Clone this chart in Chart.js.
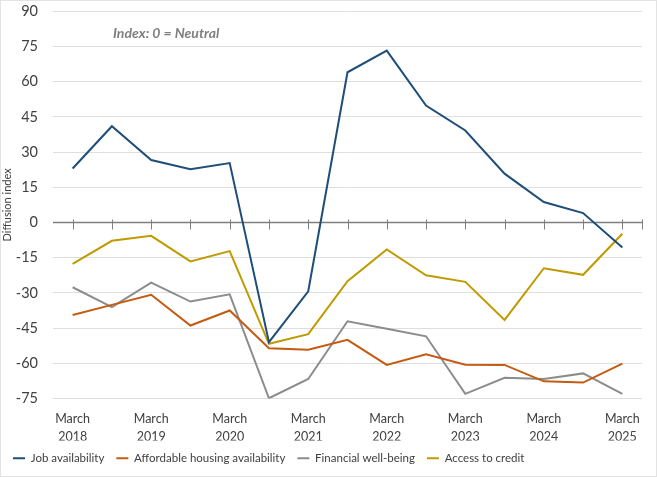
<!DOCTYPE html>
<html>
<head>
<meta charset="utf-8">
<script src="https://cdn.jsdelivr.net/npm/chart.js@4.4.1/dist/chart.umd.min.js"></script>
<style>
  html, body { margin: 0; padding: 0; background: #fff; }
  #wrap { position: relative; width: 655px; height: 475px; border: 1px solid #e3e3e3; }
</style>
</head>
<body>
<div id="wrap"><canvas id="chart"></canvas></div>
<script>
const categories = [
  "March 2018", "September 2018", "March 2019", "September 2019", "March 2020",
  "September 2020", "March 2021", "September 2021", "March 2022", "September 2022",
  "March 2023", "September 2023", "March 2024", "September 2024", "March 2025"
];
const tickLabels = [
  ["March", "2018"], "", ["March", "2019"], "", ["March", "2020"], "",
  ["March", "2021"], "", ["March", "2022"], "", ["March", "2023"], "",
  ["March", "2024"], "", ["March", "2025"]
];
const jobAvailability = [23, 41, 26.6, 22.7, 25.3, -51, -29.3, 64, 73.2, 49.8, 39.2, 20.8, 8.7, 4, -10.7];
const affordableHousing = [-39.4, -35.1, -30.8, -43.9, -37.5, -53.6, -54.2, -50, -60.7, -56.2, -60.6, -60.7, -67.7, -68.2, -60.1];
const financialWellBeing = [-27.6, -36.1, -25.6, -33.7, -30.6, -74.9, -66.7, -42.1, -45.3, -48.5, -73, -66.2, -66.7, -64.3, -73];
const accessToCredit = [-17.6, -7.8, -5.7, -16.6, -12.2, -51.7, -47.6, -25, -11.5, -22.5, -25.3, -41.5, -19.5, -22.3, -4.8];
const yTicks = [-75, -60, -45, -30, -15, 0, 15, 30, 45, 60, 75, 90];

const FONT = "Lato, 'Open Sans', sans-serif";

// note text in the upper left of the plot
const noteLabel = {
  id: "noteLabel",
  afterDraw(chart) {
    const { ctx, chartArea } = chart;
    ctx.save();
    ctx.font = "italic bold 14px " + FONT;
    ctx.fillStyle = "#7f7f7f";
    ctx.textBaseline = "middle";
    ctx.fillText("Index: 0 = Neutral", chartArea.left + 60, chartArea.top + 22);
    ctx.restore();
  },
};

// horizontal axis line at zero with tick marks at each category
const zeroAxis = {
  id: "zeroAxis",
  beforeDatasetsDraw(chart) {
    const { ctx, chartArea } = chart;
    const x = chart.scales.x;
    const y0 = chart.scales.y.getPixelForValue(0);
    ctx.save();
    ctx.strokeStyle = "#7f7f7f";
    ctx.lineWidth = 1.5;
    ctx.beginPath();
    ctx.moveTo(chartArea.left, y0);
    ctx.lineTo(chartArea.right, y0);
    ctx.stroke();
    ctx.lineWidth = 1;
    ctx.beginPath();
    const xs = categories.map((c, i) => x.getPixelForValue(i));
    xs.push(chartArea.right);
    xs.forEach((px) => {
      const p = Math.round(px) + 0.5;
      ctx.moveTo(p, y0 - 3);
      ctx.lineTo(p, y0 + 7);
    });
    ctx.stroke();
    ctx.restore();
  },
};

function line(label, data, color) {
  return {
    label: label,
    data: data,
    borderColor: color,
    backgroundColor: color,
    borderWidth: 2,
    pointRadius: 0,
    tension: 0,
    fill: false,
  };
}

new Chart(document.getElementById("chart"), {
  type: "line",
  data: {
    labels: categories,
    datasets: [
      line("Job availability", jobAvailability, "#1f4e79"),
      line("Affordable housing availability", affordableHousing, "#c55a11"),
      line("Financial well-being", financialWellBeing, "#8c8c8c"),
      line("Access to credit", accessToCredit, "#bf9b00"),
    ],
  },
  options: {
    responsive: true,
    maintainAspectRatio: false,
    animation: false,
    layout: { padding: { top: 1, right: 14, left: 0, bottom: 2 } },
    scales: {
      x: {
        offset: true,
        grid: { display: false, drawTicks: false },
        border: { display: false },
        afterFit: (axis) => {
          axis.height = 42;
        },
        ticks: {
          autoSkip: false,
          maxRotation: 0,
          color: "#404040",
          font: { family: FONT, size: 12.5, lineHeight: 1.45 },
          padding: 11,
          callback: (v, i) => tickLabels[i],
        },
      },
      y: {
        min: -75,
        max: 90,
        afterBuildTicks: (axis) => {
          axis.ticks = yTicks.map((v) => ({ value: v }));
        },
        afterFit: (axis) => {
          axis.width = 52;
        },
        grid: {
          color: (c) => (c.tick && c.tick.value === 0 ? "rgba(0,0,0,0)" : "#dedede"),
          drawTicks: true,
          tickLength: 12,
          tickColor: "rgba(0,0,0,0)",
        },
        border: { display: false },
        ticks: {
          color: "#404040",
          font: { family: FONT, size: 14.5, lineHeight: 1 },
          padding: 3,
        },
        title: {
          display: true,
          text: "Diffusion index",
          color: "#404040",
          font: { family: FONT, size: 11 },
          padding: { top: 0, bottom: 0 },
        },
      },
    },
    plugins: {
      legend: {
        position: "bottom",
        align: "start",
        labels: {
          usePointStyle: true,
          pointStyle: "line",
          pointStyleWidth: 12,
          color: "#404040",
          font: { family: FONT, size: 11.5 },
          padding: 12,
        },
      },
      tooltip: { enabled: false },
    },
  },
  plugins: [noteLabel, zeroAxis],
});
</script>
</body>
</html>
